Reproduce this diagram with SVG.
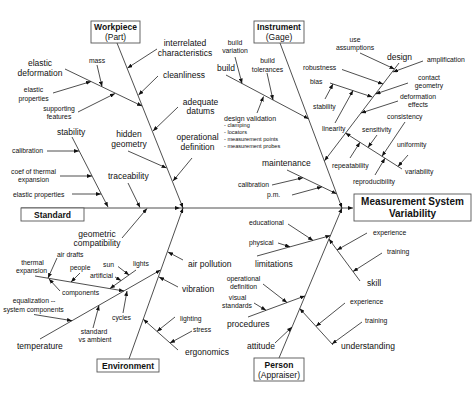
<svg xmlns="http://www.w3.org/2000/svg" width="474" height="403" viewBox="0 0 474 403">
<style>
text{font-family:"Liberation Sans",Arial,sans-serif;font-size:8.5px;fill:#111}
.s{font-size:6.8px}
.t{font-size:5.6px}
.v{font-size:7px}
.b{font-weight:bold}
.m{text-anchor:middle}
.c{stroke:#222;stroke-width:0.8;fill:none;marker-end:url(#a)}
.box{fill:#fff;stroke:#555;stroke-width:0.9}
</style>
<defs>
<marker id="a" markerUnits="userSpaceOnUse" markerWidth="5" markerHeight="4" refX="5" refY="2" orient="auto">
<path d="M0,0 L5,2 L0,4 z" fill="#111"/>
</marker>
</defs>
<rect width="474" height="403" fill="#fff"/>
<g id="connectors">
<!-- spine -->
<path class="c" d="M21,208 L180,208"/>
<path class="c" d="M180,208 L353,208"/>
<!-- main bones -->
<path class="c" d="M117,43 L183,208"/>
<path class="c" d="M280,43 L342,208"/>
<path class="c" d="M129,359 L183,208"/>
<path class="c" d="M279,358 L342,208"/>
<!-- workpiece -->
<path class="c" d="M65,69 L142,106"/>
<path class="c" d="M97,65 L102,86.5"/>
<path class="c" d="M53,93 L91,81.5"/>
<path class="c" d="M78,112 L115,93.5"/>
<path class="c" d="M157,49 L127.5,68"/>
<path class="c" d="M158,76 L138.5,95"/>
<path class="c" d="M178,107 L153,131"/>
<path class="c" d="M128,151 L166.5,168"/>
<path class="c" d="M192,158 L173,181"/>
<!-- standard -->
<path class="c" d="M72,137 L108,207"/>
<path class="c" d="M47,151 L79,151"/>
<path class="c" d="M60,176 L92,176"/>
<path class="c" d="M72,194 L101,194"/>
<path class="c" d="M128,183 L140,207.5"/>
<path class="c" d="M122,238 L147,208.5"/>
<!-- environment -->
<path class="c" d="M40,339 L160.5,270"/>
<path class="c" d="M34,314.5 L72,320.7"/>
<path class="c" d="M93,328 L99,305.5"/>
<path class="c" d="M123,313 L127,291"/>
<path class="c" d="M35,276 L124,291"/>
<path class="c" d="M57,258 L48,278"/>
<path class="c" d="M80,273 L71,282"/>
<path class="c" d="M60,291 L49,279"/>
<path class="c" d="M136,270 L110,288.5"/>
<path class="c" d="M118,266.5 L129,275"/>
<path class="c" d="M115,277 L121,280.5"/>
<path class="c" d="M183,260 L168,252"/>
<path class="c" d="M178,287 L159,277"/>
<path class="c" d="M178,350 L143.3,319.3"/>
<path class="c" d="M175,317 L157,331.4"/>
<path class="c" d="M192,331 L170,343"/>
<!-- instrument -->
<path class="c" d="M226,75 L308.5,118.8"/>
<path class="c" d="M235,57 L242,83.5"/>
<path class="c" d="M267,73 L273,100"/>
<path class="c" d="M257,113 L263.5,96.5"/>
<path class="c" d="M287,170 L336.5,193.8"/>
<path class="c" d="M272,185 L303,177.7"/>
<path class="c" d="M292,195 L322,186.8"/>
<path class="c" d="M399,63 L324.5,160.8"/>
<path class="c" d="M360,53 L394.4,69"/>
<path class="c" d="M423,61 L393,72"/>
<path class="c" d="M342,69.5 L383,84"/>
<path class="c" d="M408,83 L375.5,94"/>
<path class="c" d="M330,83 L372.3,97"/>
<path class="c" d="M325,99 L333,84"/>
<path class="c" d="M335,123 L353,90.5"/>
<path class="c" d="M398,101 L361,113"/>
<path class="c" d="M402,169 L345.5,133.1"/>
<path class="c" d="M405,122 L382,156.3"/>
<path class="c" d="M377,135 L368,147.4"/>
<path class="c" d="M408,155 L398,166.5"/>
<path class="c" d="M350,158 L360,142.3"/>
<path class="c" d="M375,175 L385,158.2"/>
<!-- person -->
<path class="c" d="M257,256 L330.4,235.6"/>
<path class="c" d="M288,224 L313,240.4"/>
<path class="c" d="M278,243 L290,246.8"/>
<path class="c" d="M360,281 L329,239.1"/>
<path class="c" d="M367,233 L337,250"/>
<path class="c" d="M382,253 L353,271.5"/>
<path class="c" d="M248,317 L305,295.9"/>
<path class="c" d="M263,284 L287,302.6"/>
<path class="c" d="M254,303 L266,310.3"/>
<path class="c" d="M275,343 L292,327"/>
<path class="c" d="M333,345 L299.7,308.5"/>
<path class="c" d="M345,303 L316,326.3"/>
<path class="c" d="M362,322 L332,343.9"/>
</g>
<!-- category boxes -->
<g id="workpiece"><rect class="box" x="91" y="21" width="49" height="22"/><text class="b m" x="115.5" y="30">Workpiece</text><text class="m" x="115.5" y="40">(Part)</text></g>
<g id="instrument"><rect class="box" x="254" y="21" width="50" height="22"/><text class="b m" x="279" y="30">Instrument</text><text class="m" x="279" y="40">(Gage)</text></g>
<g id="standard"><rect class="box" x="21" y="208" width="63" height="13"/><text class="b m" x="52.5" y="217.5">Standard</text></g>
<g id="environment"><rect class="box" x="97" y="359" width="62" height="13"/><text class="b m" x="128" y="368.5">Environment</text></g>
<g id="person"><rect class="box" x="254" y="358" width="50" height="23"/><text class="b m" x="279" y="367.5">Person</text><text class="m" x="279" y="378">(Appraiser)</text></g>
<g id="msv"><rect class="box" x="354" y="194" width="117" height="27"/><text class="b m" x="412.5" y="204.5" style="font-size:10px">Measurement System</text><text class="b m" x="412.5" y="216.5" style="font-size:10px">Variability</text></g>
<!-- workpiece labels -->
<g id="elastic-deformation"><text class="m" x="40" y="66">elastic</text><text class="m" x="40" y="76">deformation</text></g>
<g id="mass"><text class="s m" x="97" y="62.5">mass</text></g>
<g id="elastic-properties-w"><text class="s m" x="33.5" y="91.5">elastic</text><text class="s m" x="33.5" y="100.5">properties</text></g>
<g id="supporting-features"><text class="s m" x="59" y="110.7">supporting</text><text class="s m" x="59" y="119">features</text></g>
<g id="interrelated"><text class="m" x="185" y="46.3">interrelated</text><text class="m" x="185" y="56.3">characteristics</text></g>
<g id="cleanliness"><text x="163" y="78">cleanliness</text></g>
<g id="adequate-datums"><text class="m" x="200.5" y="104.7">adequate</text><text class="m" x="200.5" y="114">datums</text></g>
<g id="hidden-geometry"><text class="m" x="129" y="137">hidden</text><text class="m" x="129" y="147">geometry</text></g>
<g id="operational-definition-w"><text class="m" x="197.5" y="140">operational</text><text class="m" x="197.5" y="150">definition</text></g>
<!-- standard labels -->
<g id="stability-s"><text x="57" y="134.5">stability</text></g>
<g id="calibration-s"><text class="s" x="12" y="153.4">calibration</text></g>
<g id="coef"><text class="s m" x="33.5" y="174.4">coef of thermal</text><text class="s m" x="33.5" y="182.4">expansion</text></g>
<g id="elastic-properties-s"><text class="s" x="13" y="196.6">elastic properties</text></g>
<g id="traceability"><text x="108" y="179">traceability</text></g>
<g id="geometric-compatibility"><text class="m" x="97" y="237">geometric</text><text class="m" x="97" y="246.3">compatibility</text></g>
<!-- environment labels -->
<g id="thermal-expansion"><text class="s m" x="32.5" y="265.4">thermal</text><text class="s m" x="31.5" y="273.4">expansion</text></g>
<g id="air-drafts"><text class="s" x="57" y="257.4">air drafts</text></g>
<g id="people"><text class="s" x="70" y="270.4">people</text></g>
<g id="sun"><text class="s" x="103" y="267.4">sun</text></g>
<g id="lights"><text class="s" x="133" y="266.4">lights</text></g>
<g id="artificial"><text class="s" x="90" y="278.4">artificial</text></g>
<g id="components"><text class="s" x="62" y="294.7">components</text></g>
<g id="equalization"><text class="s m" x="34" y="303.4">equalization --</text><text class="s m" x="33.5" y="311.7">system components</text></g>
<g id="cycles"><text class="s" x="112" y="319.7">cycles</text></g>
<g id="standard-vs-ambient"><text class="s m" x="94" y="334">standard</text><text class="s m" x="95" y="342.4">vs ambient</text></g>
<g id="temperature"><text x="17" y="349">temperature</text></g>
<g id="air-pollution"><text x="188" y="266.5">air pollution</text></g>
<g id="vibration"><text x="182" y="292.3">vibration</text></g>
<g id="lighting"><text class="s" x="180" y="320.7">lighting</text></g>
<g id="stress"><text class="s" x="193" y="332.4">stress</text></g>
<g id="ergonomics"><text x="185" y="354.7">ergonomics</text></g>
<!-- instrument labels -->
<g id="build-variation"><text class="s m" x="235" y="44.7">build</text><text class="s m" x="235" y="53.1">variation</text></g>
<g id="build"><text x="217" y="71.3">build</text></g>
<g id="build-tolerances"><text class="s m" x="267.5" y="63.4">build</text><text class="s m" x="267.5" y="71.7">tolerances</text></g>
<g id="design-validation"><text class="v" x="224" y="120.5">design validation</text><text class="t" x="224" y="127">- clamping</text><text class="t" x="224" y="134.3">- locators</text><text class="t" x="224" y="141.3">- measurement points</text><text class="t" x="224" y="148">- measurement probes</text></g>
<g id="maintenance"><text x="262" y="166">maintenance</text></g>
<g id="calibration-i"><text class="s" x="238" y="187.4">calibration</text></g>
<g id="pm"><text class="s" x="267" y="196.6">p.m.</text></g>
<g id="use-assumptions"><text class="s m" x="355" y="41.7">use</text><text class="s m" x="355" y="49.7">assumptions</text></g>
<g id="design"><text x="387" y="60">design</text></g>
<g id="amplification"><text class="s" x="427" y="61.7">amplification</text></g>
<g id="robustness"><text class="s" x="303" y="69.7">robustness</text></g>
<g id="bias"><text class="s" x="310" y="84">bias</text></g>
<g id="contact-geometry"><text class="s m" x="429" y="79.7">contact</text><text class="s m" x="429" y="88.1">geometry</text></g>
<g id="stability-i"><text class="s" x="313" y="109.1">stability</text></g>
<g id="deformation-effects"><text class="s m" x="418" y="99.1">deformation</text><text class="s m" x="418" y="106.7">effects</text></g>
<g id="linearity"><text class="s" x="322" y="130.7">linearity</text></g>
<g id="consistency"><text class="s" x="387" y="119.1">consistency</text></g>
<g id="sensitivity"><text class="s" x="362" y="131.7">sensitivity</text></g>
<g id="uniformity"><text class="s" x="397" y="147.4">uniformity</text></g>
<g id="repeatability"><text class="s" x="332" y="168.4">repeatability</text></g>
<g id="variability"><text class="s" x="405" y="174.1">variability</text></g>
<g id="reproducibility"><text class="s" x="353" y="184.1">reproducibility</text></g>
<!-- person labels -->
<g id="educational"><text class="s" x="249" y="225.4">educational</text></g>
<g id="physical"><text class="s" x="249" y="245.1">physical</text></g>
<g id="limitations"><text x="255" y="267">limitations</text></g>
<g id="experience-1"><text class="s" x="373" y="234.7">experience</text></g>
<g id="training-1"><text class="s" x="387" y="254.1">training</text></g>
<g id="skill"><text x="367" y="286.3">skill</text></g>
<g id="operational-definition-p"><text class="s m" x="243.5" y="281.4">operational</text><text class="s m" x="243.5" y="289.1">definition</text></g>
<g id="visual-standards"><text class="s m" x="237.5" y="300.1">visual</text><text class="s m" x="237" y="308.4">standards</text></g>
<g id="procedures"><text x="227" y="327">procedures</text></g>
<g id="attitude"><text x="247" y="349">attitude</text></g>
<g id="experience-2"><text class="s" x="350" y="304.1">experience</text></g>
<g id="training-2"><text class="s" x="365" y="323.4">training</text></g>
<g id="understanding"><text x="341" y="349">understanding</text></g>
</svg>
